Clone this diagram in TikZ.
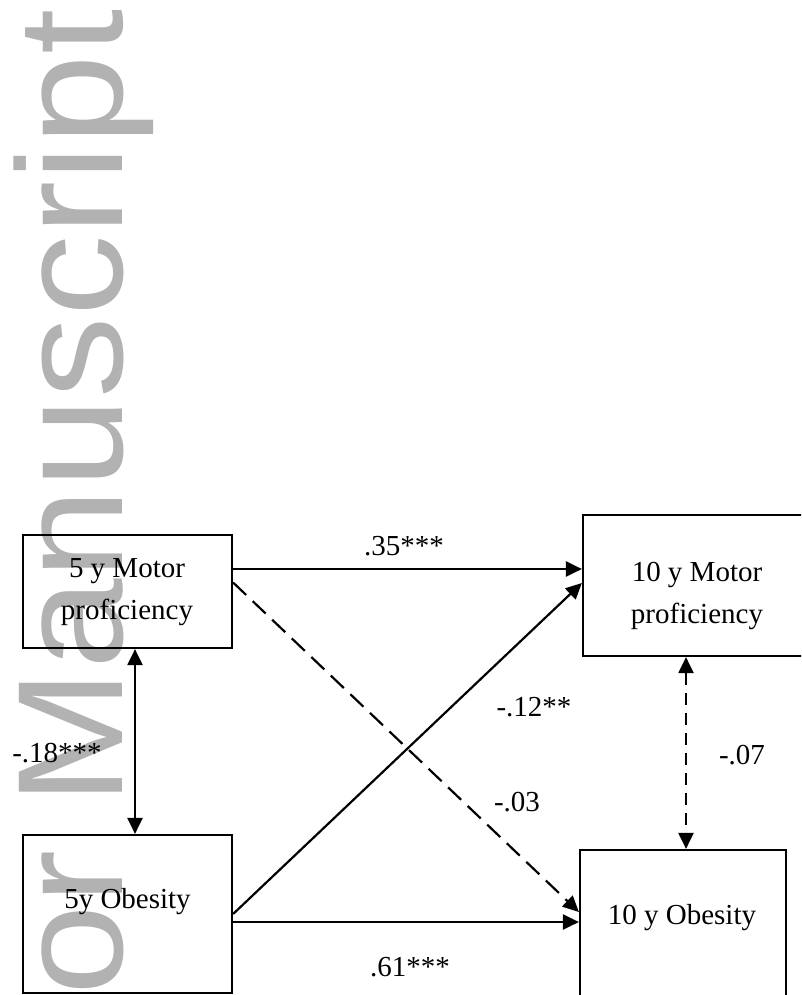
\documentclass[tikz,border=0pt]{standalone}
\usepackage{fontspec}
\setmainfont{Liberation Serif}
\newfontfamily\wmfont{Liberation Sans}
\usetikzlibrary{arrows.meta}
\definecolor{wmgray}{RGB}{178,178,178}
\tikzset{
  box/.style={draw, line width=2.2pt, rectangle, inner sep=0pt},
  boxtext/.style={align=center, inner sep=0pt, font=\fontsize{29}{42}\selectfont},
  coef/.style={inner sep=0pt, font=\fontsize{29}{35}\selectfont},
  path/.style={line width=2.2pt, -{Triangle[length=16pt,width=15pt]}},
  covar/.style={line width=2.2pt, {Triangle[length=16pt,width=15pt]}-{Triangle[length=16pt,width=15pt]}},
  longdash/.style={dash pattern=on 18pt off 9pt},
  shortdash/.style={dash pattern=on 12pt off 8pt}
}
\begin{document}
\begin{tikzpicture}[x=1pt,y=-1pt]
\useasboundingbox (0,0) rectangle (801,995);
\clip (0,0) rectangle (801,995);
% watermark
\node[wmgray, rotate=90, anchor=base east, inner sep=0pt] (wm) at (122,9)
  {\wmfont\fontsize{150}{150}\selectfont\scalebox{1.085}[1]{or Manuscript}};
% boxes
\node[box, minimum width=209pt, minimum height=113pt] (A) at (127.5,591.5) {};
\node[box, minimum width=227pt, minimum height=141pt] (B) at (696.5,585.5) {};
\node[box, minimum width=209pt, minimum height=158pt] (C) at (127.5,914) {};
\node[box, minimum width=206pt, minimum height=160pt] (D) at (683,930) {};
% box texts
\node[boxtext] (At) at (127,592) {5 y Motor\\proficiency};
\node[boxtext] (Bt) at (697,596) {10 y Motor\\proficiency};
\node[boxtext] (Ct) at (127.5,902) {5y Obesity};
\node[boxtext] (Dt) at (682,918) {10 y Obesity};
% paths
\draw[path] ([yshift=22.5pt]A.east) -- ([yshift=16.5pt]B.west);
\draw[path, longdash] ([yshift=9pt]A.east) -- ([yshift=18pt]D.west);
\draw[path] (C.east) -- ([yshift=2.5pt]B.west);
\draw[path] ([yshift=-8pt]C.east) -- ([yshift=8pt]D.west);
\draw[covar] ([xshift=7.5pt]A.south) -- ([xshift=7.5pt]C.north);
\draw[covar, shortdash] ([xshift=-10.5pt]B.south) -- ([xshift=3pt]D.north);
% coefficients
\node[coef] (c1) at (404,546) {.35***};
\node[coef] (c2) at (534,707) {-.12**};
\node[coef] (c3) at (517,802) {-.03};
\node[coef] (c4) at (742,755) {-.07};
\node[coef] (c5) at (57,753) {-.18***};
\node[coef] (c6) at (410,967) {.61***};
\end{tikzpicture}
\end{document}
